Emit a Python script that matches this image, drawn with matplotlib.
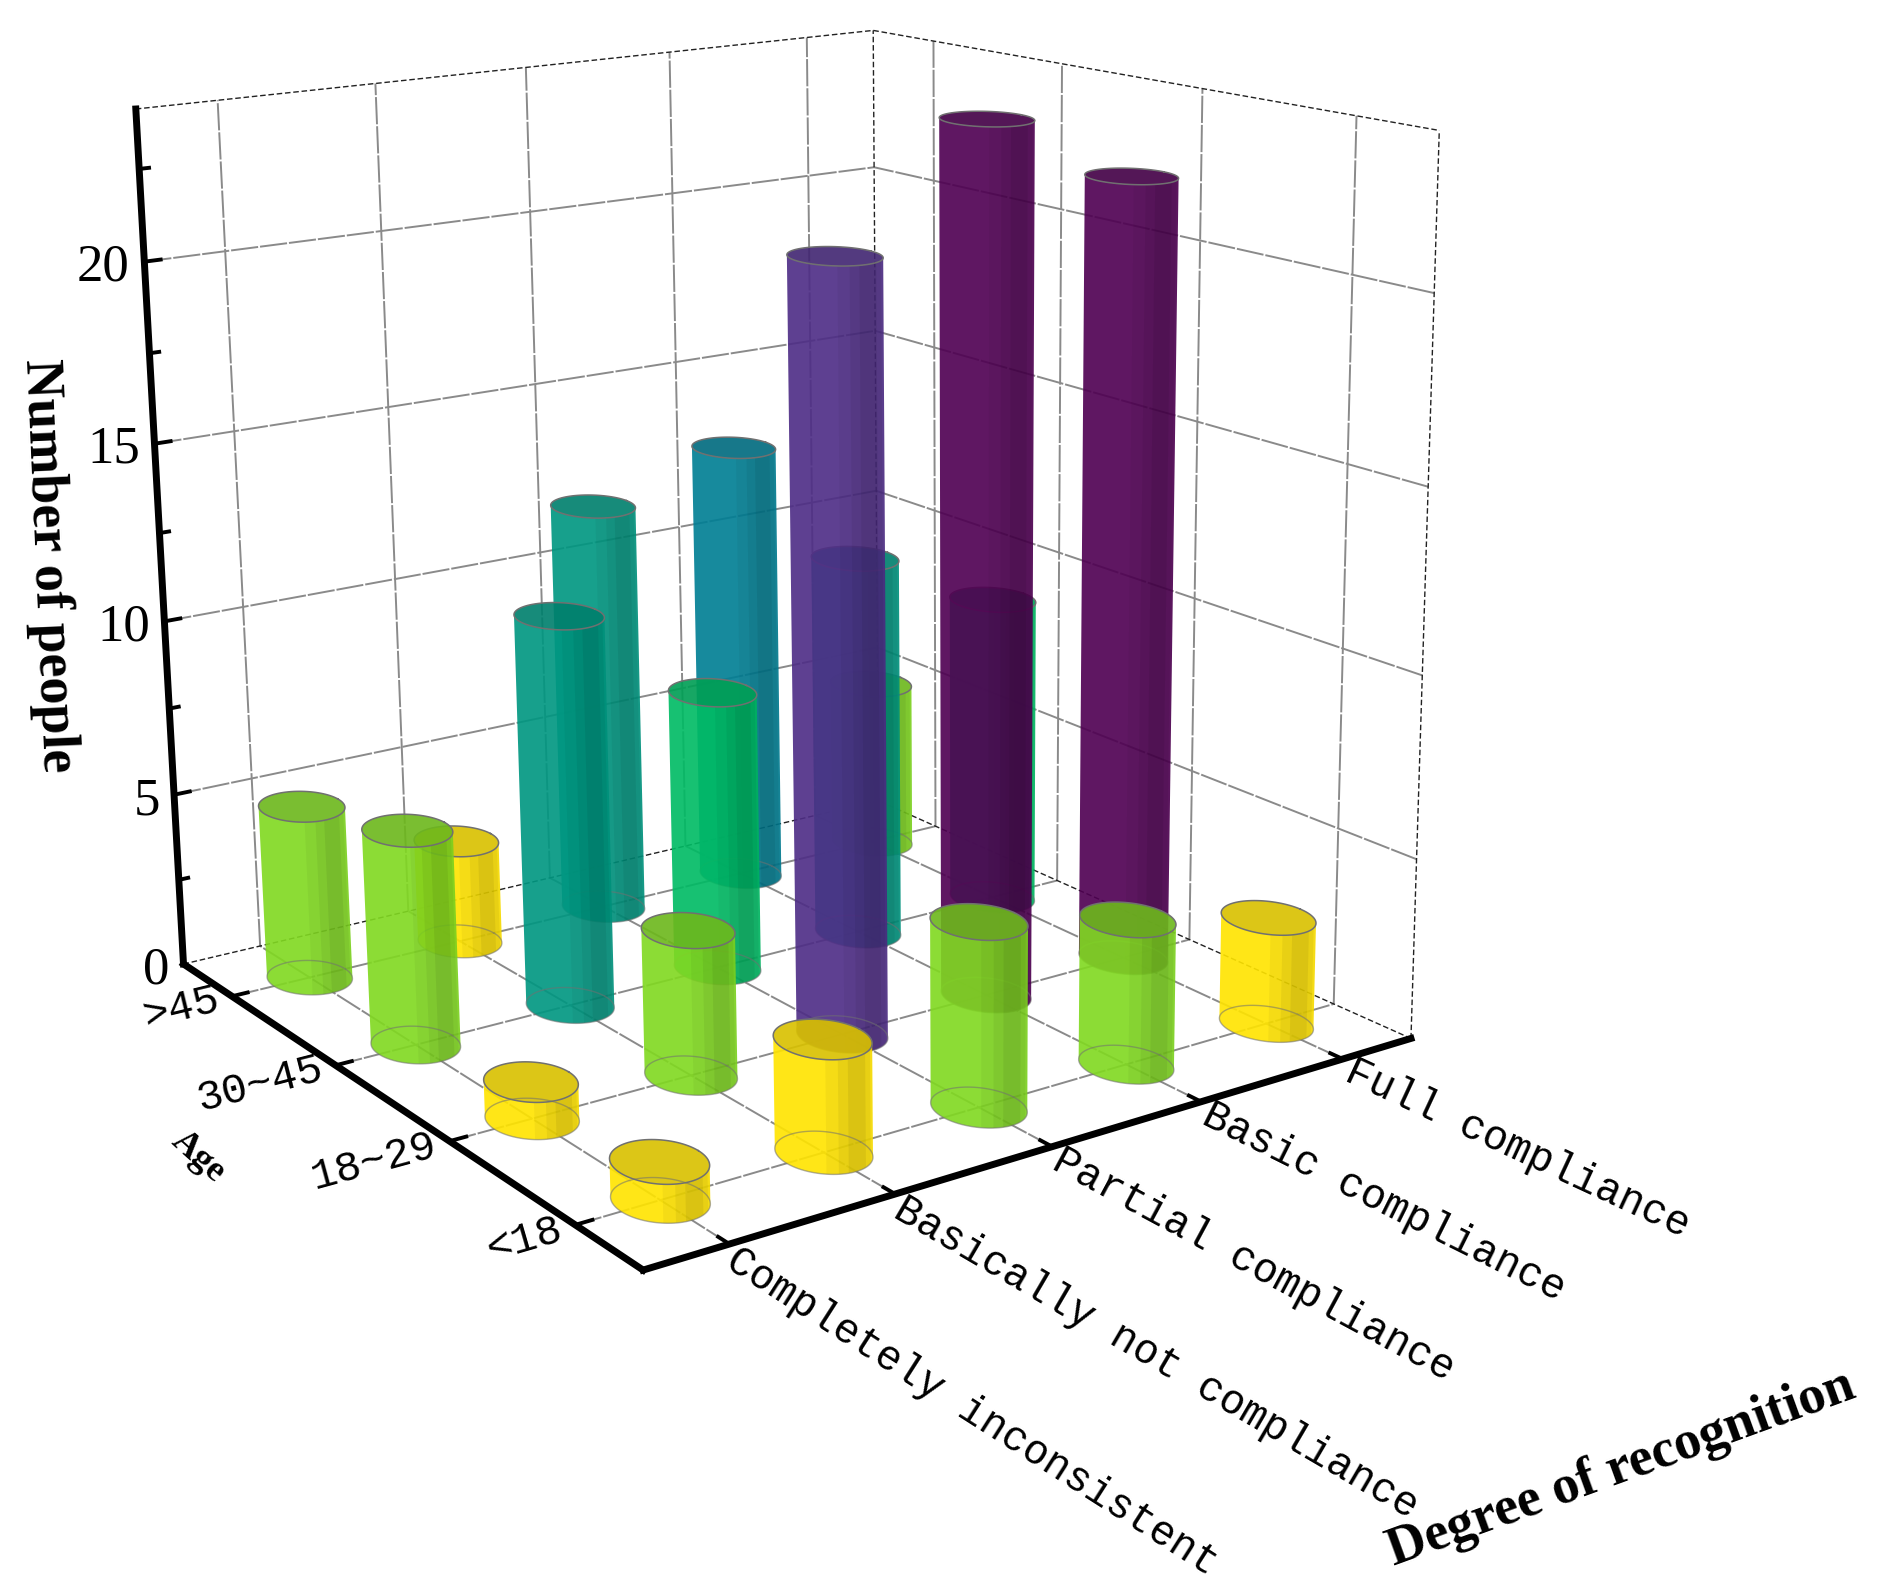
import numpy as np
import matplotlib
matplotlib.use('Agg')
import matplotlib.pyplot as plt
from matplotlib.colors import ListedColormap, BoundaryNorm
from mpl_toolkits.mplot3d.art3d import Poly3DCollection

recognition = ['Completely inconsistent', 'Basically not compliance', 'Partial compliance',
               'Basic compliance', 'Full compliance']
ages = ['<18', '18~29', '30~45', '>45']

under_18 = [1, 3, 5, 4, 3]
age_18_29 = [1, 4, 21, 24, 22]
age_30_45 = [6, 11, 8, 11, 9]
over_45 = [5, 3, 12, 13, 5]
counts = [under_18, age_18_29, age_30_45, over_45]

z_major = [0, 5, 10, 15, 20]
z_minor = [2.5, 7.5, 12.5, 17.5, 22.5]

level_edges = [0, 3.5, 7, 9.5, 12.5, 15, 21.5, 26]
level_colors = ['#FFE600', '#8CDC35', '#00C172', '#00A08C', '#008A9E', '#5E4091', '#5F1062']

X0, X1 = 0.5, 5.5
Y0, Y1 = 0.5, 4.5
Z1 = 24.1
R = 0.232
ALPHA = 0.91

W, H = 1877, 1590
fig = plt.figure(figsize=(W / 100, H / 100), dpi=100, facecolor='white')
ax = fig.add_axes([0, 0, 1, 1], projection='3d', computed_zorder=False)
ax.set_axis_off()
ax.apply_aspect()

# corners of the box in the picture (pixels, y from the top), fit a camera on them
corners = [((X0, Y0, 0), (641, 1270)), ((X0, Y1, 0), (186, 965)), ((X0, Y1, Z1), (135, 108)),
           ((X1, Y0, 0), (1414, 1037)), ((X1, Y0, Z1), (1438, 132)),
           ((X1, Y1, 0), (875, 801)), ((X1, Y1, Z1), (875, 30))]
A = []
for (x, y, z), (u, v) in corners:
    A.append([x, y, z, 1, 0, 0, 0, 0, -u * x, -u * y, -u * z, -u])
    A.append([0, 0, 0, 0, x, y, z, 1, -v * x, -v * y, -v * z, -v])
P = np.linalg.svd(np.array(A, dtype=float))[2][-1].reshape(3, 4)
if P[2] @ np.array([X0, Y0, 0, 1]) < 0:
    P = -P
flip = np.array([[1, 0, 0], [0, -1, H], [0, 0, 1.0]])
T = ax.transData.inverted().get_matrix() @ flip
Q = T @ P
M = np.vstack([Q[0], Q[1], [0, 0, 0, -1], Q[2]])
ax.get_proj = lambda: M

cam = np.linalg.svd(P)[2][-1]
cam = cam[:3] / cam[3]


def project(x, y, z):
    p = P @ np.array([x, y, z, 1.0])
    return p[:2] / p[2]


def label(x, y, z, s, direction=None, **kw):
    u, v = project(x, y, z)
    rot = 0
    if direction is not None:
        du, dv = project(x + direction[0], y + direction[1], z + direction[2]) - np.array([u, v])
        rot = np.degrees(np.arctan2(-dv, du))
    fig.text(u / W, 1 - v / H, s, rotation=rot, rotation_mode='anchor', color='black', **kw)


cmap = ListedColormap(level_colors)
norm = BoundaryNorm(level_edges, cmap.N)


def bar_rgb(v):
    # colours above are as seen on white, undo the transparency
    c = np.array(cmap(norm(v))[:3])
    return np.clip((c - (1 - ALPHA)) / ALPHA, 0, 1)


def add_poly(pts, color, order):
    poly = Poly3DCollection([pts], facecolors=[color], edgecolors='none', linewidths=0, zorder=order)
    poly.set_clip_on(False)
    ax.add_collection3d(poly, autolim=False)


def wall_band(xc, yc, h, t0, t1, color, order):
    # strip of the cylinder side that faces the camera, t runs -1..1 from left to right
    a0 = np.arctan2(cam[1] - yc, cam[0] - xc)
    phi = np.linspace(np.arcsin(t0), np.arcsin(t1), 40)
    px, py = xc + R * np.cos(a0 + phi), yc + R * np.sin(a0 + phi)
    pts = list(zip(px, py, np.zeros_like(px))) + list(zip(px[::-1], py[::-1], np.full_like(px, h)))
    add_poly(pts, color, order)


def cylinder(xc, yc, h, order):
    base = bar_rgb(h)
    wall_band(xc, yc, h, -1, 1, (*base, ALPHA), order)
    # darker strips towards the right, nested so they add up
    wall_band(xc, yc, h, 0.05, 1.0, (0, 0, 0, 0.04), order + 0.01)
    wall_band(xc, yc, h, 0.3, 0.95, (0, 0, 0, 0.05), order + 0.02)
    wall_band(xc, yc, h, 0.5, 0.85, (0, 0, 0, 0.06), order + 0.03)
    t = np.linspace(0, 2 * np.pi, 97)
    cx, cy = xc + R * np.cos(t), yc + R * np.sin(t)
    add_poly(list(zip(cx, cy, np.full_like(t, h))), (*(base * 0.85), ALPHA), order + 0.1)
    ax.plot(cx, cy, np.full_like(t, h), color='#707070', lw=1.1, clip_on=False, zorder=order + 0.2)
    ax.plot(cx, cy, np.zeros_like(t), color='#707070', lw=1.0, alpha=0.55, clip_on=False, zorder=order + 0.2)


x_pos = np.arange(1, len(recognition) + 1)
y_pos = np.arange(1, len(ages) + 1)
GRID = dict(color='#8a8a8a', lw=1.4, ls=(0, (14, 1)), clip_on=False, zorder=1)
EDGE = dict(color='#222222', lw=1.0, ls=(0, (4, 2)), clip_on=False, zorder=1)
THICK = dict(color='black', lw=5, solid_capstyle='projecting', clip_on=False, zorder=500)
TICK = dict(color='black', lw=2.8, clip_on=False, zorder=500)

# floor and walls
for x in x_pos:
    ax.plot([x, x], [Y0, Y1], [0, 0], **GRID)
    ax.plot([x, x], [Y1, Y1], [0, Z1], **GRID)
for y in y_pos:
    ax.plot([X0, X1], [y, y], [0, 0], **GRID)
    ax.plot([X1, X1], [y, y], [0, Z1], **GRID)
for z in z_major[1:]:
    ax.plot([X0, X1], [Y1, Y1], [z, z], **GRID)
    ax.plot([X1, X1], [Y0, Y1], [z, z], **GRID)
ax.plot([X0, X1, X1], [Y1, Y1, Y0], [Z1, Z1, Z1], **EDGE)
ax.plot([X0, X1, X1], [Y1, Y1, Y0], [0, 0, 0], **EDGE)
ax.plot([X1, X1], [Y1, Y1], [0, Z1], **EDGE)
ax.plot([X1, X1], [Y0, Y0], [0, Z1], **EDGE)

# bars, far ones first
bars = []
for j, row in enumerate(counts):
    for i, v in enumerate(row):
        depth = P[2] @ np.array([x_pos[i], y_pos[j], 0, 1])
        bars.append((depth, x_pos[i], y_pos[j], v))
bars.sort(key=lambda b: -b[0])
for k, (_, x, y, v) in enumerate(bars):
    cylinder(x, y, v, 10 + k)

# thick axes and ticks
ax.plot([X0, X0], [Y1, Y1], [0, Z1], **THICK)
ax.plot([X0, X0], [Y0, Y1], [0, 0], **THICK)
ax.plot([X0, X1], [Y0, Y0], [0, 0], **THICK)
for x in x_pos:
    ax.plot([x, x], [Y0, Y0 + 0.08], [0, 0], **TICK)
for y in y_pos:
    ax.plot([X0, X0 + 0.1], [y, y], [0, 0], **TICK)
for z in z_major[1:]:
    ax.plot([X0, X0 + 0.1], [Y1, Y1], [z, z], **TICK)
for z in z_minor:
    ax.plot([X0, X0 + 0.06], [Y1, Y1], [z, z], **TICK)

# text
for x, name in zip(x_pos, recognition):
    label(x - 0.08, Y0 - 0.1, 0, name, direction=(0, -1, 0), family='Liberation Mono', fontsize=30,
          ha='left', va='center')
for y, name in zip(y_pos, ages):
    label(X0 - 0.08, y, 0, name, direction=(1, 0, 0), family='Liberation Mono', fontsize=31,
          ha='right', va='center')
for z in z_major:
    label(X0 - 0.09, Y1, z - 0.1, str(z), family='Liberation Serif', fontsize=38, ha='right', va='center')
fig.text(48 / W, 1 - 566 / H, 'Number of people', rotation=-87.5, rotation_mode='anchor',
         family='Liberation Serif', weight='bold', fontsize=39, ha='center', va='center')
fig.text(198 / W, 1 - 1157 / H, 'Age', rotation=-42, rotation_mode='anchor',
         family='Liberation Serif', weight='bold', fontsize=26, ha='center', va='center')
fig.text(1621 / W, 1 - 1469 / H, 'Degree of recognition', rotation=20, rotation_mode='anchor',
         family='Liberation Serif', weight='bold', fontsize=39, ha='center', va='center')

fig.savefig('out.png', dpi=100)
